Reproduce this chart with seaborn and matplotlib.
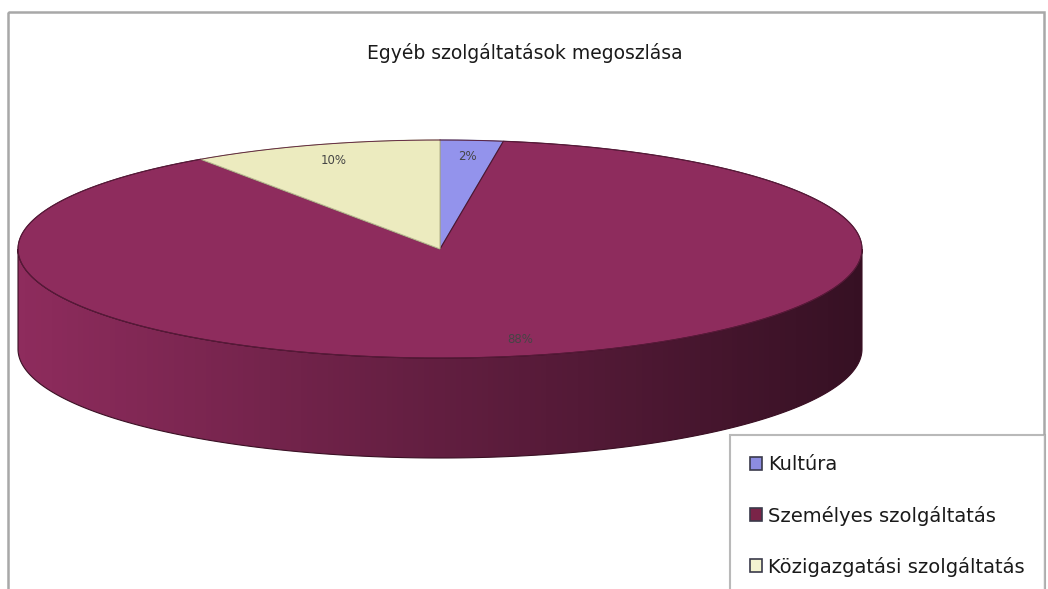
import numpy as np
import matplotlib
matplotlib.use("Agg")
import matplotlib.pyplot as plt
import seaborn as sns
from matplotlib.patches import Polygon, Rectangle, Patch

# ---- data ----
title = "Egyéb szolgáltatások megoszlása"
categories = ["Kultúra", "Személyes szolgáltatás", "Közigazgatási szolgáltatás"]
values = [2.4, 88.0, 9.6]
top_colors = ["#9393EC", "#8E2C5D", "#ECEBBF"]
legend_colors = ["#8C8CE0", "#7A2448", "#F4F4D0"]

sns.set_theme(style="white")
plt.rcParams["font.family"] = ["DejaVu Sans"]

W, H = 1048, 589
fig = plt.figure(figsize=(W / 100, H / 100), dpi=100)
ax = fig.add_axes([0, 0, 1, 1])
ax.set_xlim(0, W)
ax.set_ylim(H, 0)
ax.axis("off")

# layout of the 3D pie (pixel space)
cx, cy, rx, ry, depth = 440, 249, 422, 109, 100


def pt(theta_deg, r=1.0, dz=0.0):
    t = np.radians(theta_deg)
    return cx + rx * r * np.sin(t), cy - ry * r * np.cos(t) + dz


total = sum(values)
bounds = np.concatenate([[0], np.cumsum(values) / total * 360])

# ---- side (front half, theta 90..270) ----
for i in range(len(values)):
    a0, a1 = max(bounds[i], 90), min(bounds[i + 1], 270)
    if a1 <= a0:
        continue
    th = np.linspace(a0, a1, 200)
    xs, ys = pt(th)
    xb, yb = pt(th[::-1], dz=depth)
    verts = np.column_stack([np.concatenate([xs, xb]), np.concatenate([ys, yb])])
    ax.add_patch(Polygon(verts, closed=True, facecolor=top_colors[i],
                         edgecolor="none", zorder=2))

th = np.linspace(90, 270, 400)
xs, ys = pt(th)
xb, yb = pt(th[::-1], dz=depth)
side_verts = np.column_stack([np.concatenate([xs, xb]), np.concatenate([ys, yb])])
ax.add_patch(Polygon(side_verts, closed=True, facecolor="none",
                     edgecolor="#3A1024", linewidth=0.8, zorder=4))

# darkening gradient on the side (light left -> dark right)
grad = np.linspace(0.0, 0.62, 256)[None, :]
rgba = np.zeros((1, 256, 4))
rgba[..., 3] = grad
im = ax.imshow(rgba, extent=(cx - rx, cx + rx, cy + ry + depth, cy - ry),
               aspect="auto", zorder=3, interpolation="bilinear")
im.set_clip_path(Polygon(side_verts, closed=True, transform=ax.transData))

# ---- top wedges ----
edges = ["#6A6A9A", "#4A1530", "#B8B890"]
for i in range(len(values)):
    th = np.linspace(bounds[i], bounds[i + 1], max(int(values[i] * 6), 20))
    xs, ys = pt(th)
    verts = np.column_stack([np.concatenate([[cx], xs]), np.concatenate([[cy], ys])])
    ax.add_patch(Polygon(verts, closed=True, facecolor=top_colors[i],
                         edgecolor=edges[i], linewidth=0.8, zorder=5))

th = np.linspace(0, 360, 600)
xs, ys = pt(th)
ax.plot(xs, ys, color="#5A1A3A", linewidth=0.6, zorder=6)

# ---- labels ----
for i in range(len(values)):
    mid = (bounds[i] + bounds[i + 1]) / 2
    lx, ly = pt(mid, r=0.85)
    ax.text(lx, ly, f"{values[i] / total * 100:.0f}%", ha="center", va="center",
            fontsize=8.5, color="#454545", zorder=7)

# ---- title ----
ax.text(525, 53, title, ha="center", va="center", fontsize=13.5, color="#1A1A1A")

# ---- chart frame ----
ax.add_patch(Rectangle((8, 12), 1036, 600, facecolor="none",
                       edgecolor="#A8A8A8", linewidth=1.8, zorder=1))

# ---- legend ----
handles = [Patch(facecolor=c, edgecolor="#3A3A4A", linewidth=1.2) for c in legend_colors]
leg = fig.legend(handles, categories, loc="upper left", mode="expand",
                 bbox_to_anchor=(730 / W, 0, 315 / W, 1 - 435 / H), frameon=True,
                 fancybox=False, edgecolor="#A8A8A8", fontsize=14,
                 handlelength=0.62, handleheight=0.62, handletextpad=0.3,
                 labelspacing=1.6, borderpad=1.05, borderaxespad=0)
leg.get_frame().set_linewidth(1.5)
for t in leg.get_texts():
    t.set_color("#1A1A1A")

fig.savefig("out.png", dpi=100)
